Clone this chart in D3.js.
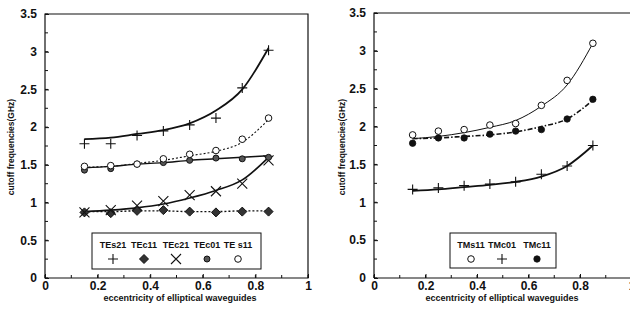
<!DOCTYPE html>
<html><head><meta charset="utf-8">
<script src="https://cdn.jsdelivr.net/npm/d3@7"></script>
<style>
body{margin:0;background:#fff;}
svg{display:block;}
text{font-family:"Liberation Sans",Arial,sans-serif;font-weight:bold;fill:#111;}
</style></head>
<body>
<svg id="chart" width="630" height="315"></svg>
<script>
// ---------- data ----------
const ecc = [0.15, 0.25, 0.35, 0.45, 0.55, 0.65, 0.75, 0.85];
const xTicksLeft = [0, 0.2, 0.4, 0.6, 0.8, 1];
const xTicksRight = [0, 0.2, 0.4, 0.6, 0.8, 1];
const yTicks = [0, 0.5, 1, 1.5, 2, 2.5, 3, 3.5];

// left panel (TE modes): measured markers and calculated curves
const teS21Pts  = [1.78, 1.78, 1.89, 1.95, 2.03, 2.12, 2.52, 3.02];
const teS21Line = [1.84, 1.86, 1.91, 1.96, 2.05, 2.22, 2.50, 3.05];
const teC11Pts  = [0.87, 0.86, 0.89, 0.90, 0.88, 0.87, 0.88, 0.88];
const teC11Line = [0.88, 0.88, 0.89, 0.89, 0.88, 0.88, 0.89, 0.89];
const teC21Pts  = [0.87, 0.90, 0.96, 1.02, 1.10, 1.15, 1.25, 1.56];
const teC21Line = [0.88, 0.90, 0.93, 0.98, 1.06, 1.16, 1.30, 1.60];
const teC01Pts  = [1.43, 1.45, 1.51, 1.53, 1.56, 1.59, 1.58, 1.60];
const teC01Line = [1.46, 1.48, 1.51, 1.53, 1.56, 1.58, 1.60, 1.62];
const teS11Pts  = [1.48, 1.49, 1.51, 1.58, 1.64, 1.69, 1.84, 2.12];
const teS11Line = [1.47, 1.48, 1.52, 1.56, 1.62, 1.68, 1.80, 2.10];

// right panel (TM modes)
const tmS11Pts  = [1.89, 1.94, 1.96, 2.02, 2.04, 2.28, 2.61, 3.10];
const tmS11Line = [1.84, 1.87, 1.92, 1.99, 2.08, 2.27, 2.55, 3.10];
const tmC01Pts  = [1.17, 1.19, 1.22, 1.24, 1.27, 1.37, 1.48, 1.75];
const tmC01Line = [1.15, 1.17, 1.20, 1.23, 1.27, 1.34, 1.48, 1.75];
const tmC11Pts  = [1.78, 1.85, 1.85, 1.90, 1.94, 1.96, 2.10, 2.36];
const tmC11Line = [1.84, 1.85, 1.87, 1.89, 1.93, 2.00, 2.10, 2.35];

const leftLegend  = ["TEs21", "TEc11", "TEc21", "TEc01", "TE s11"];
const rightLegend = ["TMs11", "TMc01", "TMc11"];
const xTitle = "eccentricity of elliptical waveguides";
const yTitle = "cutoff frequencies(GHz)";

// ---------- drawing ----------
const svg = d3.select("#chart");
const ink = "#111";

function marker(g, type, x, y) {
  if (type === "plus") {
    g.append("path").attr("d", `M${x-5},${y}H${x+5}M${x},${y-5}V${y+5}`)
      .attr("stroke", ink).attr("stroke-width", 1.1).attr("fill", "none");
  } else if (type === "cross") {
    g.append("path").attr("d", `M${x-5},${y-5}L${x+5},${y+5}M${x-5},${y+5}L${x+5},${y-5}`)
      .attr("stroke", ink).attr("stroke-width", 1.1).attr("fill", "none");
  } else if (type === "circle") {
    g.append("circle").attr("cx", x).attr("cy", y).attr("r", 3.3)
      .attr("fill", "#fff").attr("stroke", ink).attr("stroke-width", 1);
  } else if (type === "dot") {
    g.append("circle").attr("cx", x).attr("cy", y).attr("r", 3)
      .attr("fill", "#555").attr("stroke", ink).attr("stroke-width", 1);
  } else if (type === "bigdot") {
    g.append("circle").attr("cx", x).attr("cy", y).attr("r", 3.2)
      .attr("fill", ink).attr("stroke", ink).attr("stroke-width", 0.8);
  } else if (type === "diamond") {
    g.append("path").attr("d", `M${x},${y-4.5}L${x+4.5},${y}L${x},${y+4.5}L${x-4.5},${y}Z`)
      .attr("fill", "#333").attr("stroke", ink).attr("stroke-width", 1);
  }
}

function panel(cfg) {
  const x = d3.scaleLinear().domain([0, 1]).range([cfg.x0, cfg.x1]);
  const y = d3.scaleLinear().domain([0, 3.5]).range([278, cfg.yTop]);
  const g = svg.append("g");

  // frame
  g.append("path")
    .attr("d", cfg.closed
      ? `M${cfg.x0},278V${cfg.yTop}H${cfg.x1}V278Z`
      : `M${cfg.x0},278V${cfg.yTop}H${cfg.x1}M${cfg.x0},278H${cfg.x1}`)
    .attr("fill", "none").attr("stroke", ink).attr("stroke-width", 1.2);

  // minor ticks
  const xMinor = d3.range(0, 1.001, 0.1);
  const yMinor = d3.range(0, 3.501, 0.25);
  const tg = g.append("g").attr("stroke", ink).attr("stroke-width", 1);
  xMinor.forEach(v => {
    tg.append("line").attr("x1", x(v)).attr("x2", x(v)).attr("y1", 278).attr("y2", 275);
  });
  yMinor.forEach(v => {
    tg.append("line").attr("x1", cfg.x0).attr("x2", cfg.x0 + 3).attr("y1", y(v)).attr("y2", y(v));
  });

  // axes with labels
  const xa = g.append("g").attr("transform", "translate(0,278)")
    .call(d3.axisBottom(x).tickValues(cfg.xTicks).tickSize(-4).tickSizeOuter(0).tickPadding(3)
      .tickFormat(d => d === 0 ? "0" : d3.format("~g")(d)));
  xa.select(".domain").remove();
  xa.selectAll("line").attr("stroke", ink);
  xa.selectAll("text").style("font-size", "12px").attr("fill", ink);

  const ya = g.append("g").attr("transform", `translate(${cfg.x0},0)`)
    .call(d3.axisLeft(y).tickValues(yTicks).tickSize(-4).tickSizeOuter(0).tickPadding(8)
      .tickFormat(d3.format("~g")));
  ya.select(".domain").remove();
  ya.selectAll("line").attr("stroke", ink);
  ya.selectAll("text").style("font-size", "12px").attr("fill", ink);

  // titles
  g.append("text").attr("x", cfg.xTitleX).attr("y", 301).attr("text-anchor", "middle")
    .style("font-size", "9px").text(xTitle);
  g.append("text").attr("transform", `translate(${cfg.yTitleX},147) rotate(-90)`)
    .attr("text-anchor", "middle").style("font-size", "8.5px").text(yTitle);

  // series
  const line = d3.line().x((d, i) => x(ecc[i])).y(d => y(d)).curve(d3.curveMonotoneX);
  cfg.series.forEach(s => {
    g.append("path").datum(s.line).attr("d", line).attr("fill", "none")
      .attr("stroke", ink).attr("stroke-width", s.width)
      .attr("stroke-dasharray", s.dash || null);
  });
  cfg.series.forEach(s => {
    const mg = g.append("g");
    s.pts.forEach((v, i) => marker(mg, s.marker, x(ecc[i]), y(v)));
  });

  // legend
  const L = cfg.legend;
  g.append("rect").attr("x", L.x).attr("y", L.y).attr("width", L.w).attr("height", L.h)
    .attr("fill", "#fff").attr("stroke", ink).attr("stroke-width", 1);
  L.names.forEach((n, i) => {
    g.append("text").attr("x", L.cols[i]).attr("y", L.y + 15).attr("text-anchor", "middle")
      .style("font-size", "9px").text(n);
    marker(g, cfg.series[L.order[i]].marker, L.cols[i], L.y + 26);
  });
}

panel({
  x0: 45, x1: 308, yTop: 14, closed: true, xTicks: xTicksLeft,
  xTitleX: 180, yTitleX: 14,
  series: [
    { pts: teS21Pts, line: teS21Line, marker: "plus", width: 1.8 },
    { pts: teC11Pts, line: teC11Line, marker: "diamond", width: 1.4, dash: "2,2" },
    { pts: teC21Pts, line: teC21Line, marker: "cross", width: 1.6 },
    { pts: teC01Pts, line: teC01Line, marker: "dot", width: 1.4 },
    { pts: teS11Pts, line: teS11Line, marker: "circle", width: 1.1, dash: "2,2" }
  ],
  legend: { x: 92, y: 233, w: 169, h: 36, names: leftLegend,
            cols: [113, 144, 176, 207, 238], order: [0, 1, 2, 3, 4] }
});

panel({
  x0: 374, x1: 631.5, yTop: 13, closed: false, xTicks: xTicksRight,
  xTitleX: 502, yTitleX: 345,
  series: [
    { pts: tmS11Pts, line: tmS11Line, marker: "circle", width: 1 },
    { pts: tmC01Pts, line: tmC01Line, marker: "plus", width: 1.8 },
    { pts: tmC11Pts, line: tmC11Line, marker: "bigdot", width: 1.6, dash: "5,2,1.5,2" }
  ],
  legend: { x: 450, y: 233, w: 106, h: 35, names: rightLegend,
            cols: [471, 502, 537], order: [0, 1, 2] }
});
</script>
</body></html>
